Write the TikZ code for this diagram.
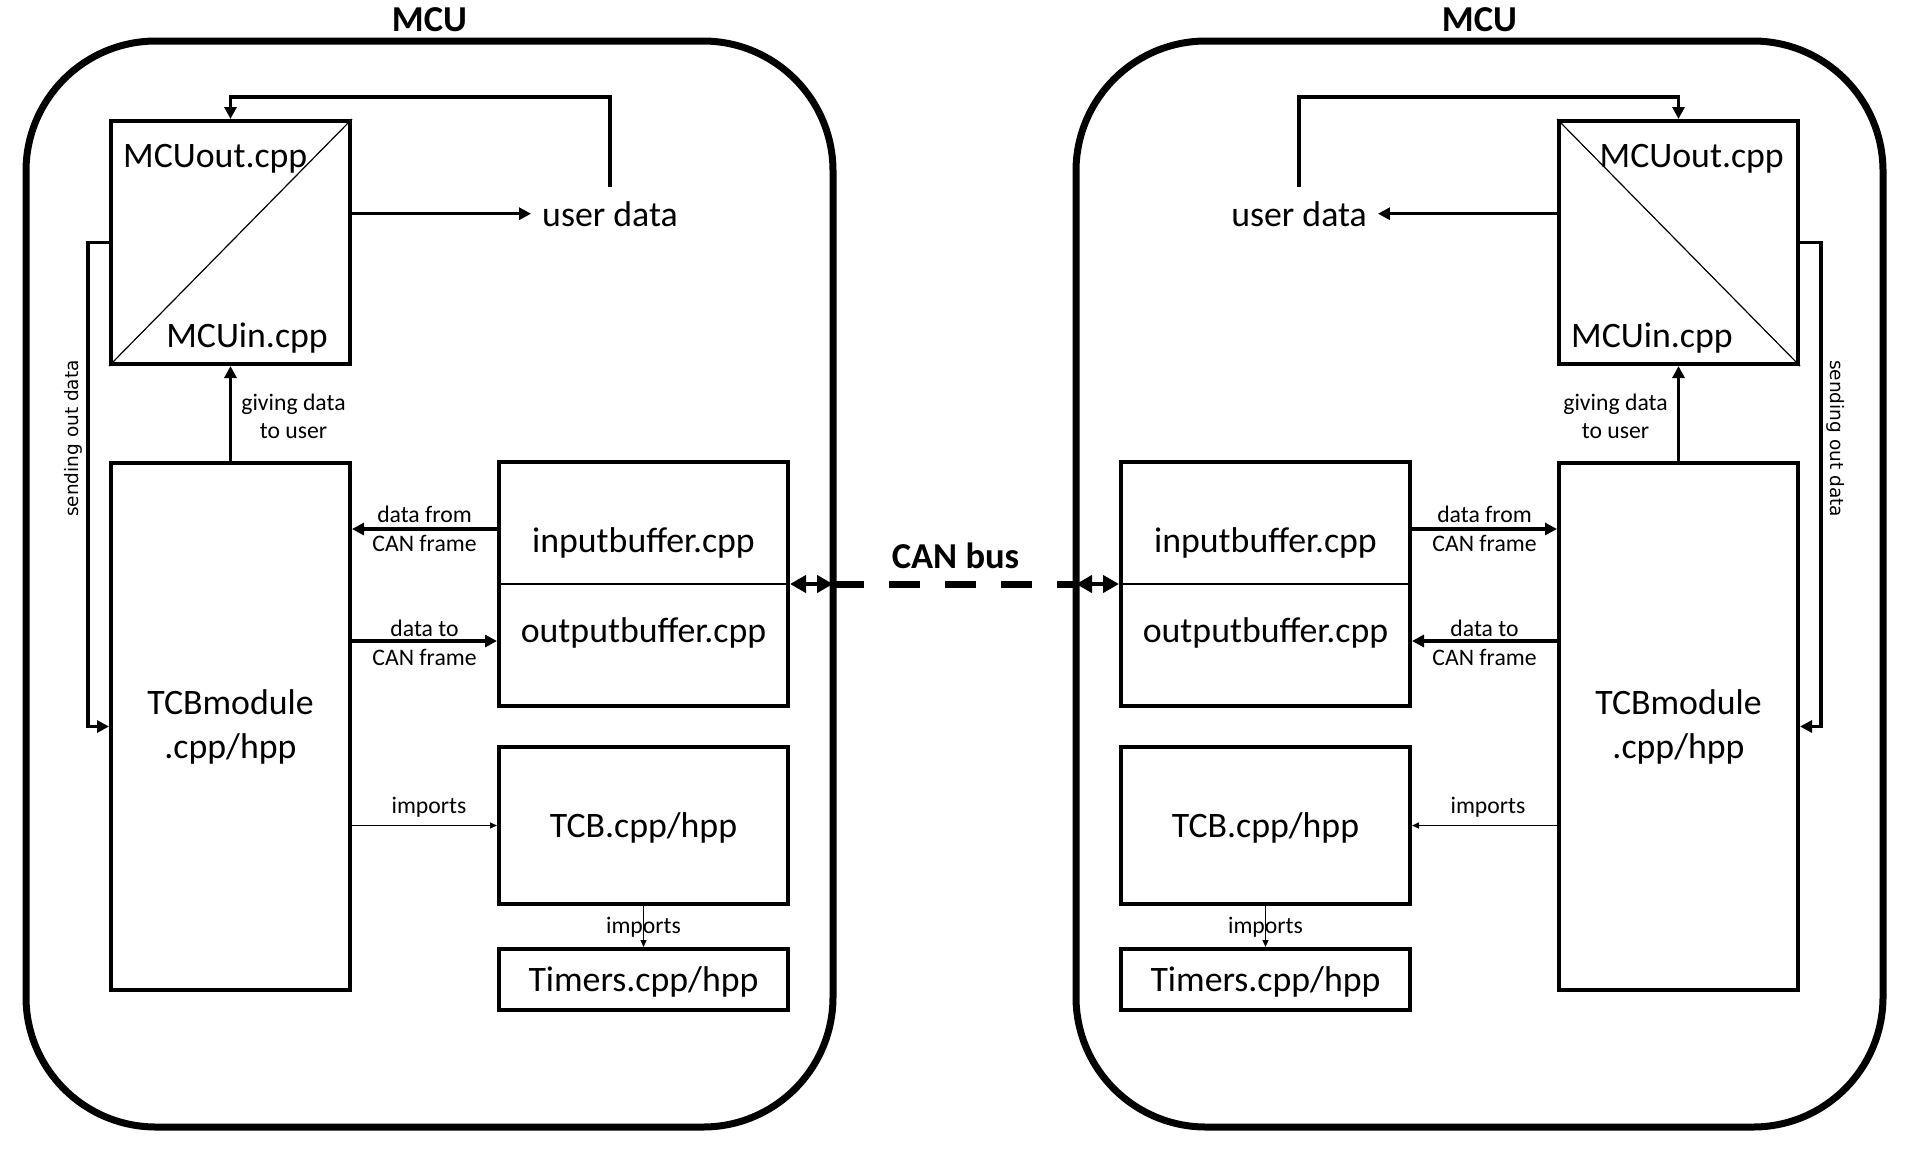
\documentclass[tikz,border=0pt]{standalone}
\usepackage{fontspec}
\setmainfont{Carlito}
\newfontfamily\dejavu{DejaVu Sans}
\usetikzlibrary{arrows.meta}
\newcommand\bigf{\fontsize{35.8pt}{44pt}\selectfont}
\newcommand\smallf{\fontsize{23.7pt}{29pt}\selectfont}
\newcommand\boldf{\fontsize{36.5pt}{44pt}\selectfont\bfseries}
\newcommand\sidef{\dejavu\fontsize{18.5pt}{22pt}\selectfont}
\tikzset{
  box/.style={draw, line width=4pt, inner sep=0pt, font=\bigf, align=center},
  capbox/.style={box, text height=23pt, text depth=0pt},
  outer/.style={draw, line width=7pt, rounded corners=130pt, inner sep=0pt, outer sep=0pt},
  txt/.style={inner sep=0pt, font=\bigf, anchor=base},
  lbl/.style={inner sep=0pt, font=\smallf, anchor=base},
  ttl/.style={inner sep=0pt, font=\boldf, anchor=base},
  side/.style={inner sep=0pt, font=\sidef},
  udata/.style={font=\bigf, inner xsep=11pt, inner ysep=14pt, anchor=base},
  conn/.style={line width=3.5pt, -{Triangle[length=12pt,width=12pt]}},
  thinconn/.style={line width=1.2pt, -{Triangle[length=7pt,width=6pt]}},
  busarr/.style={line width=4pt, {Triangle[length=16pt,width=17pt]}-{Triangle[length=16pt,width=17pt]}},
  busline/.style={line width=7pt, dash pattern=on 31pt off 25pt},
  fine/.style={line width=1.2pt}
}
\begin{document}
\begin{tikzpicture}[x=1pt,y=-1pt]
\useasboundingbox (0,0) rectangle (1919,1149);

% ---------------- left MCU ----------------
\node[outer, minimum width=807pt, minimum height=1086pt] (mcuL) at (429.5,584) {};
\node[ttl] (tL) at (429.5,31) {MCU};
\node[box, minimum width=239pt, minimum height=243pt] (ioL) at (230.5,242.5) {};
\draw[fine] (ioL.south west) -- (ioL.north east);
\node[txt, anchor=base west] (outL) at (123,167) {MCUout.cpp};
\node[txt, anchor=base east] (inL) at (328,347) {MCUin.cpp};
\node[box, minimum width=239pt, minimum height=527pt] (modL) at (230.5,726.5) {TCBmodule\\.cpp/hpp};
\node[box, minimum width=289pt, minimum height=244pt] (bufL) at (643.5,584) {};
\draw[fine] (bufL.west) -- (bufL.east);
\node[txt] (ibL) at (643.5,552) {inputbuffer.cpp};
\node[txt] (obL) at (643.5,642) {outputbuffer.cpp};
\node[capbox, minimum width=289pt, minimum height=157pt] (tcbL) at (643.5,825.5) {TCB.cpp/hpp};
\node[capbox, minimum width=289pt, minimum height=61pt] (timL) at (643.5,979.5) {Timers.cpp/hpp};
\node[udata] (udL) at (610,226) {user data};
\coordinate (fbL) at (230.5,97);
\coordinate (soL) at (88,242.5);

\draw[conn] (ioL.east |- udL.west) -- (udL.west);
\draw[conn] (udL.north) |- (fbL) -- (ioL.north);
\draw[conn] (ioL.west) -- (soL) |- (modL.west);
\draw[conn] (modL.north) -- (ioL.south);
\draw[conn] (bufL.west |- 0,529) -- (modL.east |- 0,529);
\draw[conn] (modL.east |- 0,641) -- (bufL.west |- 0,641);
\draw[thinconn] (modL.east |- tcbL.west) -- (tcbL.west);
\draw[thinconn] (tcbL.south) -- (timL.north);

\node[lbl] (gdL1) at (293.5,410) {giving data};
\node[lbl] (gdL2) at (293.5,438) {to user};
\node[lbl] (dfL1) at (424.5,522) {data from};
\node[lbl] (dfL2) at (424.5,551) {CAN frame};
\node[lbl] (dtL1) at (424.5,636) {data to};
\node[lbl] (dtL2) at (424.5,665) {CAN frame};
\node[lbl] (imL) at (429,813) {imports};
\node[lbl] (im2L) at (643.5,933) {imports};
\node[side, rotate=90] (soLbl) at (73,438.5) {sending out data};

% ---------------- right MCU ----------------
\node[outer, minimum width=807pt, minimum height=1086pt] (mcuR) at (1479.5,584) {};
\node[ttl] (tR) at (1479.5,31) {MCU};
\node[box, minimum width=239pt, minimum height=243pt] (ioR) at (1678.5,242.5) {};
\draw[fine] (ioR.north west) -- (ioR.south east);
\node[txt, anchor=base east] (outR) at (1784,167) {MCUout.cpp};
\node[txt, anchor=base west] (inR) at (1571,347) {MCUin.cpp};
\node[box, minimum width=239pt, minimum height=527pt] (modR) at (1678.5,726.5) {TCBmodule\\.cpp/hpp};
\node[box, minimum width=289pt, minimum height=244pt] (bufR) at (1265.5,584) {};
\draw[fine] (bufR.west) -- (bufR.east);
\node[txt] (ibR) at (1265.5,552) {inputbuffer.cpp};
\node[txt] (obR) at (1265.5,642) {outputbuffer.cpp};
\node[capbox, minimum width=289pt, minimum height=157pt] (tcbR) at (1265.5,825.5) {TCB.cpp/hpp};
\node[capbox, minimum width=289pt, minimum height=61pt] (timR) at (1265.5,979.5) {Timers.cpp/hpp};
\node[udata] (udR) at (1299,226) {user data};
\coordinate (fbR) at (1678.5,97);
\coordinate (soR) at (1821,242.5);

\draw[conn] (ioR.west |- udR.east) -- (udR.east);
\draw[conn] (udR.north) |- (fbR) -- (ioR.north);
\draw[conn] (ioR.east) -- (soR) |- (modR.east);
\draw[conn] (modR.north) -- (ioR.south);
\draw[conn] (bufR.east |- 0,529) -- (modR.west |- 0,529);
\draw[conn] (modR.west |- 0,641) -- (bufR.east |- 0,641);
\draw[thinconn] (modR.west |- tcbR.east) -- (tcbR.east);
\draw[thinconn] (tcbR.south) -- (timR.north);

\node[lbl] (gdR1) at (1615.5,410) {giving data};
\node[lbl] (gdR2) at (1615.5,438) {to user};
\node[lbl] (dfR1) at (1484.5,522) {data from};
\node[lbl] (dfR2) at (1484.5,551) {CAN frame};
\node[lbl] (dtR1) at (1484.5,636) {data to};
\node[lbl] (dtR2) at (1484.5,665) {CAN frame};
\node[lbl] (imR) at (1488,813) {imports};
\node[lbl] (im2R) at (1265.5,933) {imports};
\node[side, rotate=-90] (soRbl) at (1836,438.5) {sending out data};

% ---------------- CAN bus ----------------
\draw[busarr] (bufL.east) -- (mcuL.east);
\draw[busline] (mcuL.east) -- (mcuR.west);
\draw[busarr] (mcuR.west) -- (bufR.west);
\node[ttl] (can) at (955.5,568) {CAN bus};
\end{tikzpicture}
\end{document}
